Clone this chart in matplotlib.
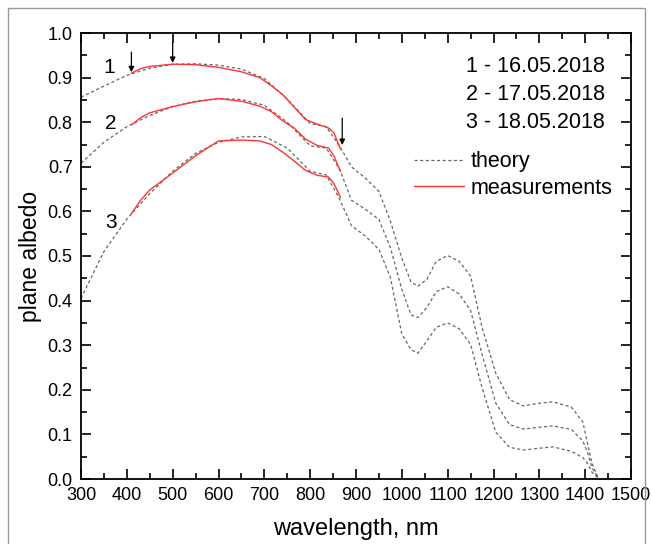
import numpy as np
import matplotlib
matplotlib.use('Agg')
import matplotlib.pyplot as plt
import matplotlib.ticker as ticker
from matplotlib.patches import Rectangle

plt.rcParams['font.family'] = ['Liberation Sans', 'DejaVu Sans']

# theory curves (wavelength, nm -> plane albedo)
wl_th = [300, 350, 400, 450, 500, 550, 600, 650, 700, 750, 800, 835, 865, 890, 920, 950, 975,
         1000, 1020, 1035, 1055, 1075, 1100, 1125, 1150, 1175, 1205, 1235, 1265, 1300, 1330,
         1370, 1395, 1405, 1415, 1428]
th1 = [0.856, 0.881, 0.905, 0.921, 0.930, 0.931, 0.928, 0.919, 0.898, 0.852, 0.797, 0.790, 0.745,
       0.700, 0.675, 0.645, 0.578, 0.495, 0.442, 0.432, 0.448, 0.488, 0.501, 0.488, 0.455, 0.340,
       0.237, 0.178, 0.164, 0.170, 0.173, 0.161, 0.128, 0.080, 0.035, 0.003]
th2 = [0.708, 0.755, 0.790, 0.815, 0.835, 0.847, 0.853, 0.851, 0.838, 0.800, 0.747, 0.742, 0.693,
       0.625, 0.605, 0.582, 0.519, 0.425, 0.368, 0.362, 0.385, 0.420, 0.431, 0.415, 0.378, 0.280,
       0.170, 0.122, 0.112, 0.116, 0.119, 0.111, 0.085, 0.060, 0.025, 0.003]
th3 = [0.405, 0.510, 0.583, 0.640, 0.690, 0.730, 0.755, 0.767, 0.768, 0.742, 0.690, 0.682, 0.626,
       0.568, 0.545, 0.515, 0.452, 0.325, 0.290, 0.282, 0.310, 0.340, 0.350, 0.337, 0.302, 0.205,
       0.105, 0.071, 0.065, 0.069, 0.072, 0.062, 0.048, 0.035, 0.015, 0.002]

# measurements
wl_m = [410, 430, 450, 500, 550, 600, 650, 690, 715, 740, 765, 790, 815, 840, 852, 866]
m1 = [0.910, 0.920, 0.925, 0.930, 0.929, 0.923, 0.913, 0.900, 0.882, 0.862, 0.834, 0.806,
      0.796, 0.787, 0.776, 0.740]
m2 = [0.794, 0.810, 0.821, 0.835, 0.846, 0.853, 0.847, 0.836, 0.824, 0.803, 0.787, 0.762,
      0.748, 0.742, 0.724, 0.690]
m3 = [0.595, 0.625, 0.648, 0.686, 0.725, 0.758, 0.760, 0.758, 0.750, 0.733, 0.713, 0.692,
      0.681, 0.677, 0.662, 0.632]

# arrows: (wavelength, tip, tail)
arrows = [(410, 0.912, 0.957), (500, 0.933, 0.978), (870, 0.749, 0.809)]
curve_nums = [('1', 361, 0.922), ('2', 366, 0.798), ('3', 366, 0.576)]
dates = ['1 - 16.05.2018', '2 - 17.05.2018', '3 - 18.05.2018']

fig = plt.figure(figsize=(6.52, 5.44), dpi=100)
fig.patches.append(Rectangle((8 / 652, -0.1), 637 / 652, 1.1 - 8 / 544, transform=fig.transFigure,
                             fill=False, edgecolor='#999999', linewidth=1))
ax = fig.add_axes([81 / 652, 65 / 544, 550 / 652, 446 / 544])

dash = (0, (2.5, 2))
ax.plot(wl_th, th1, color='#666666', lw=0.9, linestyle=dash, label='theory')
ax.plot(wl_th, th2, color='#666666', lw=0.9, linestyle=dash)
ax.plot(wl_th, th3, color='#666666', lw=0.9, linestyle=dash)
ax.plot(wl_m, m1, color='#ff3333', lw=1.0, label='measurements')
ax.plot(wl_m, m2, color='#ff3333', lw=1.0)
ax.plot(wl_m, m3, color='#ff3333', lw=1.0)

for x, tip, tail in arrows:
    ax.annotate('', xy=(x, tip), xytext=(x, tail),
                arrowprops=dict(arrowstyle='-|>', color='black', lw=0.9, mutation_scale=8,
                                shrinkA=0, shrinkB=0))

for s, x, y in curve_nums:
    ax.text(x, y, s, fontsize=15, ha='center', va='center')

for i, d in enumerate(dates):
    ax.text(1443, 0.924 - i * 0.062, d, fontsize=15.5, ha='right', va='center')

ax.legend(loc='upper left', bbox_to_anchor=(0.605, 0.735), frameon=False, fontsize=15.5,
          handlelength=2.35, handletextpad=0.3, labelspacing=0.25, borderaxespad=0,
          borderpad=0)

ax.set_xlim(300, 1500)
ax.set_ylim(0, 1.0)
ax.xaxis.set_major_locator(ticker.MultipleLocator(100))
ax.xaxis.set_minor_locator(ticker.MultipleLocator(50))
ax.yaxis.set_major_locator(ticker.MultipleLocator(0.1))
ax.yaxis.set_minor_locator(ticker.MultipleLocator(0.05))
ax.yaxis.set_major_formatter(ticker.FormatStrFormatter('%.1f'))
ax.tick_params(which='both', direction='in', top=True, right=True, labelsize=13, width=1.2)
ax.tick_params(which='major', length=7, pad=6)
ax.tick_params(which='minor', length=4)
for s in ax.spines.values():
    s.set_linewidth(1.3)

ax.set_xlabel('wavelength, nm', fontsize=17, labelpad=10)
ax.set_ylabel('plane albedo', fontsize=16.5, labelpad=4)

fig.savefig('out.png', dpi=100)
